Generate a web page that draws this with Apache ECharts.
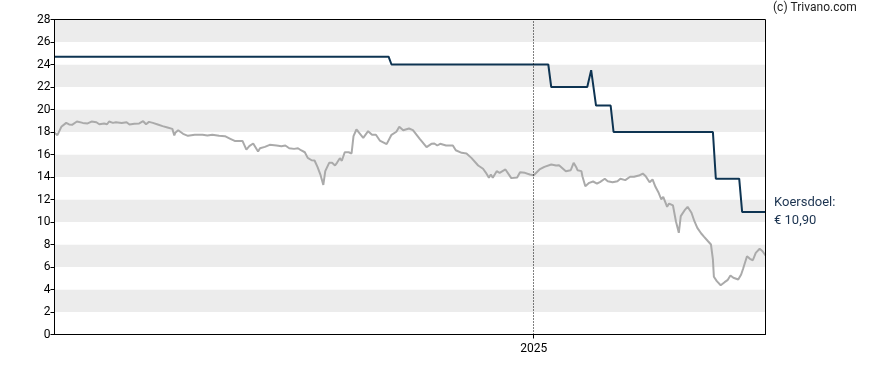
<!DOCTYPE html>
<html>
<head>
<meta charset="utf-8">
<script src="https://cdn.jsdelivr.net/npm/echarts@6/dist/echarts.min.js"></script>
<style>
html,body{margin:0;padding:0;background:#fff;}
#chart{width:888px;height:370px;}
</style>
</head>
<body>
<div id="chart"></div>
<script>
// ---- data ----
const xStart = '2023-08-28';
const xEnd = '2025-08-27';
const yearMarker = '2025-01-01';
const yTicks = [0, 2, 4, 6, 8, 10, 12, 14, 16, 18, 20, 22, 24, 26, 28];

const priceDates = [
'2023-08-28','2023-08-31','2023-09-04','2023-09-09','2023-09-12','2023-09-15','2023-09-20','2023-09-26',
'2023-10-01','2023-10-05','2023-10-10','2023-10-13','2023-10-18','2023-10-21','2023-10-23','2023-10-27','2023-10-30',
'2023-11-05','2023-11-10','2023-11-13','2023-11-18','2023-11-23','2023-11-27','2023-11-30',
'2023-12-03','2023-12-07','2023-12-12','2023-12-17','2023-12-22','2023-12-27','2023-12-29','2023-12-30',
'2024-01-02','2024-01-07','2024-01-12','2024-01-19','2024-01-27',
'2024-02-01','2024-02-06','2024-02-13','2024-02-19','2024-02-24','2024-02-29',
'2024-03-08','2024-03-12','2024-03-15','2024-03-19','2024-03-21','2024-03-24','2024-03-26','2024-03-31',
'2024-04-05','2024-04-12','2024-04-17','2024-04-18','2024-04-21','2024-04-25','2024-04-30',
'2024-05-04','2024-05-07','2024-05-11','2024-05-14','2024-05-18','2024-05-21','2024-05-24','2024-05-27','2024-05-30',
'2024-06-01','2024-06-05','2024-06-08','2024-06-11','2024-06-13','2024-06-16','2024-06-18','2024-06-21','2024-06-25','2024-06-28','2024-06-30',
'2024-07-03','2024-07-05','2024-07-10','2024-07-15','2024-07-19','2024-07-23','2024-07-27',
'2024-08-03','2024-08-08','2024-08-13','2024-08-16','2024-08-20','2024-08-26','2024-08-30',
'2024-09-06','2024-09-13','2024-09-18','2024-09-21','2024-09-24','2024-09-27',
'2024-10-03','2024-10-10','2024-10-13','2024-10-19','2024-10-24','2024-10-29',
'2024-11-05','2024-11-10','2024-11-13','2024-11-16','2024-11-18','2024-11-20','2024-11-24','2024-11-27',
'2024-12-03','2024-12-09','2024-12-15','2024-12-18','2024-12-23','2024-12-28',
'2025-01-01','2025-01-07','2025-01-12','2025-01-19','2025-01-24','2025-01-27',
'2025-02-03','2025-02-05','2025-02-08','2025-02-11','2025-02-14','2025-02-15','2025-02-19','2025-02-20','2025-02-23','2025-02-27',
'2025-03-03','2025-03-07','2025-03-10','2025-03-12','2025-03-15','2025-03-18','2025-03-23','2025-03-28','2025-03-31',
'2025-04-05','2025-04-10','2025-04-14','2025-04-19','2025-04-23','2025-04-26','2025-04-30',
'2025-05-03','2025-05-06','2025-05-09','2025-05-12','2025-05-14','2025-05-18','2025-05-20','2025-05-24','2025-05-27','2025-05-30',
'2025-06-01','2025-06-05','2025-06-08','2025-06-12','2025-06-15','2025-06-18','2025-06-22','2025-06-25','2025-06-29',
'2025-07-02','2025-07-04','2025-07-05','2025-07-08','2025-07-12','2025-07-16','2025-07-19','2025-07-22','2025-07-25','2025-07-30',
'2025-08-02','2025-08-04','2025-08-08','2025-08-11','2025-08-14','2025-08-17','2025-08-21','2025-08-24','2025-08-27'
];
const priceValues = [
17.93,17.72,18.46,18.81,18.67,18.64,18.93,18.81,
18.76,18.93,18.87,18.69,18.76,18.69,18.93,18.81,18.87,
18.81,18.87,18.67,18.73,18.76,18.96,18.69,
18.90,18.81,18.67,18.52,18.40,18.28,17.69,17.93,
18.16,17.84,17.66,17.75,17.75,
17.69,17.75,17.66,17.63,17.42,17.21,
17.21,16.44,16.74,16.98,16.92,16.27,16.56,16.68,
16.86,16.80,16.74,16.62,16.80,16.56,16.50,
16.56,16.38,16.20,15.70,15.49,15.47,14.90,14.22,13.30,
14.52,15.26,15.26,15.02,15.26,15.67,15.44,16.20,16.20,16.09,17.63,
18.22,18.02,17.48,18.07,17.75,17.75,17.24,
16.92,17.75,18.02,18.46,18.16,18.31,18.16,
17.39,16.65,16.95,16.98,16.80,16.95,
16.80,16.80,16.38,16.15,16.09,15.70,
15.02,14.73,14.37,13.93,14.22,13.93,14.52,14.37,
14.67,13.90,13.96,14.43,14.37,14.22,
14.16,14.67,14.90,15.11,15.02,15.05,
14.52,14.67,14.60,15.26,14.82,14.60,14.52,14.07,13.18,13.48,
13.60,13.42,13.54,13.42,13.84,13.63,13.54,13.63,13.84,
13.72,14.02,14.02,14.13,14.31,14.07,13.54,
13.78,13.13,12.65,12.00,12.24,11.35,11.64,11.47,10.07,9.04,
10.52,11.05,11.35,10.82,10.07,9.48,8.98,8.68,8.29,
8.00,6.67,5.13,4.74,4.38,4.65,4.83,5.24,5.04,4.89,
5.33,5.84,6.96,6.73,6.60,7.26,7.62,7.40,7.02
];

const targetDates = [
'2023-08-28','2024-08-05','2024-08-08','2025-01-16','2025-01-19','2025-02-25','2025-03-01','2025-03-03',
'2025-03-06','2025-03-21','2025-03-24','2025-07-04','2025-07-07','2025-07-31','2025-08-03','2025-08-27'
];
const targetValues = [
24.7,24.7,24.0,24.0,22.0,22.0,23.5,23.5,
20.35,20.35,18.0,18.0,13.85,13.85,10.9,10.9
];

const copyrightText = '(c) Trivano.com';
const targetLabel = 'Koersdoel:';
const targetValueLabel = '€ 10,90';

// ---- chart ----
function ts(s){ const p = s.split('-').map(Number); return Date.UTC(p[0], p[1]-1, p[2]); }

const chart = echarts.init(document.getElementById('chart'), null, {renderer:'canvas'});
chart.setOption({
  animation: false,
  backgroundColor: '#ffffff',
  grid: {left: 54.5, right: 122.5, top: 19.5, bottom: 35.5, show: true, z: 10,
         borderColor: '#000', borderWidth: 1, backgroundColor: 'rgba(0,0,0,0)'},
  xAxis: {
    type: 'value',
    min: ts(xStart),
    max: ts(xEnd),
    axisLine: {show: true, onZero: false, lineStyle: {color: '#000', width: 1}},
    axisTick: {show: true, length: 4, lineStyle: {color: '#000'}, customValues: [ts(yearMarker)]},
    axisLabel: {show: true, customValues: [ts(yearMarker)], color: '#000', fontFamily: 'Roboto', fontSize: 12, margin: 8,
      formatter: function(v){ return String(new Date(v).getUTCFullYear()); }},
    splitLine: {show: false}
  },
  yAxis: {
    type: 'value',
    min: yTicks[0],
    max: yTicks[yTicks.length-1],
    interval: 2,
    axisLine: {show: true, onZero: false, lineStyle: {color: '#000', width: 1}},
    axisTick: {show: true, length: 4, lineStyle: {color: '#000'}},
    axisLabel: {color: '#000', fontFamily: 'Roboto', fontSize: 12, margin: 4},
    splitLine: {show: false},
    splitArea: {show: true, areaStyle: {color: ['#ffffff', '#ececec']}}
  },
  series: [
    {
      type: 'line',
      data: priceDates.map((d, i) => [ts(d), priceValues[i]]),
      showSymbol: false,
      lineStyle: {color: '#aaaaaa', width: 2},
      z: 2,
      markLine: {
        silent: true,
        symbol: ['none', 'none'],
        label: {show: false},
        lineStyle: {color: '#000', width: 1, type: [1, 2]},
        data: [{xAxis: ts(yearMarker)}]
      }
    },
    {
      type: 'line',
      data: targetDates.map((d, i) => [ts(d), targetValues[i]]),
      showSymbol: false,
      lineStyle: {color: '#0e3452', width: 2},
      z: 3
    }
  ],
  graphic: [
    {type: 'text', left: 773, top: 2, style: {text: copyrightText, fill: '#222', font: '12px Roboto'}},
    {type: 'text', left: 774, top: 196, style: {text: targetLabel, fill: '#1b3350', font: '13px Roboto'}},
    {type: 'text', left: 774, top: 214, style: {text: targetValueLabel, fill: '#1b3350', font: '13px Roboto'}}
  ]
});
</script>
</body>
</html>
